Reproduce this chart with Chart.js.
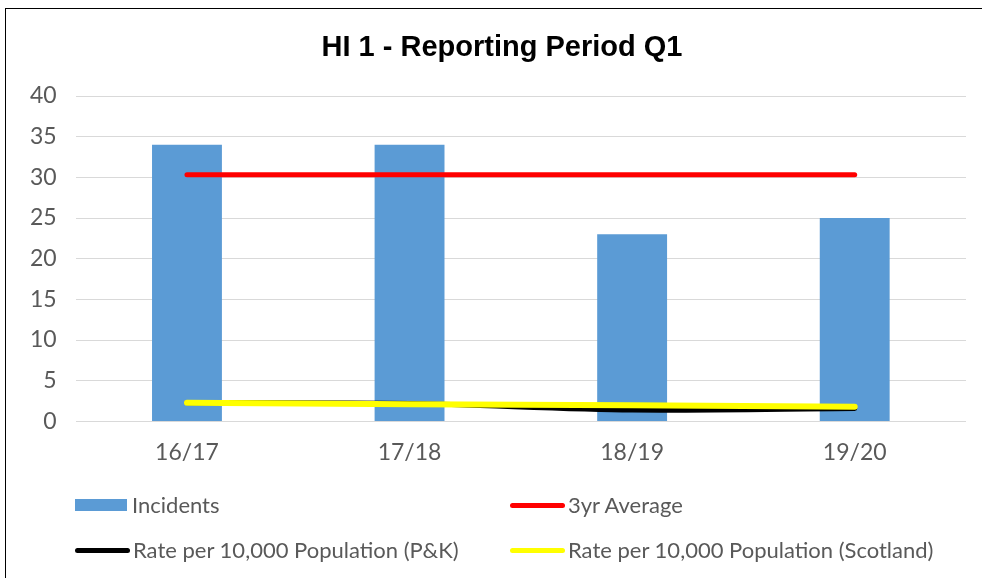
<!DOCTYPE html>
<html>
<head>
<meta charset="utf-8">
<script src="https://cdn.jsdelivr.net/npm/chart.js@4.4.1/dist/chart.umd.min.js"></script>
<style>
    html, body { margin: 0; padding: 0; background: #fff; }
    #wrap { position: relative; width: 982px; height: 578px; overflow: hidden; }
    #frame { position: absolute; left: 5px; top: 8px; width: 980px; height: 600px; border: 1px solid #000; box-sizing: border-box; }
    #chart { position: absolute; left: 0; top: 0; }
    #title { position: absolute; left: 302px; width: 400px; top: 29px; text-align: center; font: bold 29px 'Liberation Sans', Arial, sans-serif; color: #000; line-height: 34px; white-space: nowrap; }
    .item { position: absolute; font-family: Lato, sans-serif; font-size: 22px; color: #595959; line-height: 26px; white-space: nowrap; }
    .swatch { position: absolute; }
</style>
</head>
<body>
<div id="wrap">
    <div id="frame"></div>
    <canvas id="chart" width="982" height="578"></canvas>
    <div id="title">HI 1 - Reporting Period Q1</div>
    <div id="legend"></div>
</div>
<script>
const categories = ['16/17', '17/18', '18/19', '19/20'];
const incidents = [34, 34, 23, 25];
const threeYrAverage = [30.33, 30.33, 30.33, 30.33];
const rateLocal = [2.3, 2.2, 1.4, 1.6];
const rateScotland = [2.3, 2.1, 2.0, 1.8];
const yTicks = [0, 5, 10, 15, 20, 25, 30, 35, 40];

const seriesNames = ['Incidents', '3yr Average', 'Rate per 10,000 Population (P&K)', 'Rate per 10,000 Population (Scotland)'];
const seriesColors = ['#5b9bd5', '#ff0000', '#000000', '#ffff00'];

const ctx = document.getElementById('chart').getContext('2d');
const chart = new Chart(ctx, {
    type: 'bar',
    data: {
        labels: categories,
        datasets: [{
            label: seriesNames[0],
            data: incidents,
            backgroundColor: seriesColors[0],
            categoryPercentage: 1,
            barPercentage: 0.314,
            order: 4
        }, {
            type: 'line',
            label: seriesNames[1],
            data: threeYrAverage,
            borderColor: seriesColors[1],
            borderWidth: 5,
            borderCapStyle: 'round',
            pointRadius: 0,
            order: 3
        }, {
            type: 'line',
            label: seriesNames[2],
            data: rateLocal,
            borderColor: seriesColors[2],
            borderWidth: 5,
            borderCapStyle: 'round',
            tension: 0.3,
            pointRadius: 0,
            order: 2
        }, {
            type: 'line',
            label: seriesNames[3],
            data: rateScotland,
            borderColor: seriesColors[3],
            borderWidth: 6,
            borderCapStyle: 'round',
            tension: 0.3,
            pointRadius: 0,
            order: 1
        }]
    },
    options: {
        responsive: false,
        animation: false,
        layout: { padding: { left: 11, right: 16, top: 96, bottom: 103 } },
        plugins: {
            legend: { display: false },
            tooltip: { enabled: false },
            title: { display: false }
        },
        scales: {
            x: {
                grid: { display: false },
                border: { display: false },
                ticks: { color: '#595959', font: { family: 'Lato', size: 23 }, padding: 9 }
            },
            y: {
                min: 0,
                max: 40,
                afterBuildTicks: function (axis) {
                    axis.ticks = yTicks.map(function (v) { return { value: v }; });
                },
                grid: { color: '#d9d9d9', lineWidth: 1, drawTicks: false },
                border: { display: false },
                ticks: { color: '#595959', font: { family: 'Lato', size: 23 }, padding: 19 }
            }
        }
    }
});

// Legend in two columns, like the original
const legendPos = [[75, 505], [510, 505], [75, 550], [510, 550]];
const legend = document.getElementById('legend');
seriesNames.forEach(function (name, i) {
    const x = legendPos[i][0];
    const y = legendPos[i][1];
    const sw = document.createElement('div');
    sw.className = 'swatch';
    sw.style.background = seriesColors[i];
    if (i === 0) {
        sw.style.left = x + 'px'; sw.style.top = (y - 6) + 'px';
        sw.style.width = '52px'; sw.style.height = '12px';
    } else {
        sw.style.left = x + 'px'; sw.style.top = (y - 2.5) + 'px';
        sw.style.width = '55px'; sw.style.height = '5px';
        sw.style.borderRadius = '3px';
    }
    legend.appendChild(sw);
    const label = document.createElement('div');
    label.className = 'item';
    label.textContent = name;
    label.style.left = (x + (i === 0 ? 57 : 58)) + 'px';
    label.style.top = (y - 13) + 'px';
    legend.appendChild(label);
});
</script>
</body>
</html>
